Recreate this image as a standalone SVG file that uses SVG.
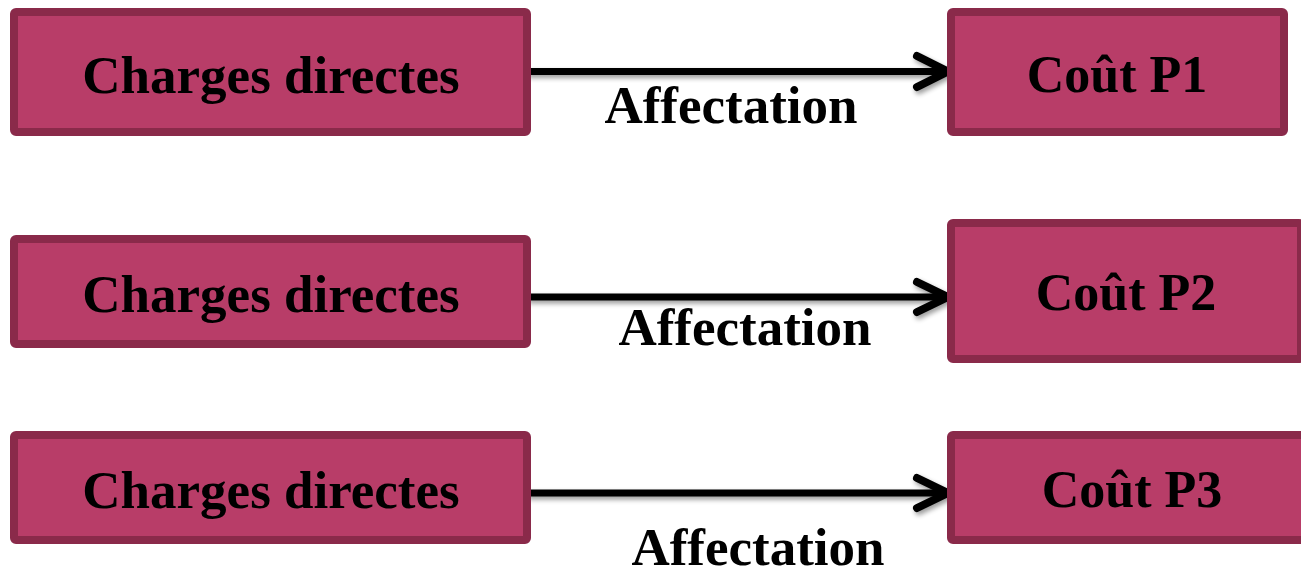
<svg xmlns="http://www.w3.org/2000/svg" width="1301" height="568" viewBox="0 0 1301 568">
<style>
.box{fill:#B83D68;stroke:#8A2A4A;stroke-width:8;}
.t{font-family:"Liberation Serif","Times New Roman",serif;font-weight:bold;font-size:53px;fill:#000;text-anchor:middle;}
.c{font-size:52px;}
.arr{fill:none;stroke:#000;stroke-width:7;stroke-linecap:round;stroke-linejoin:round;}
.head{fill:none;stroke:#000;stroke-width:8;stroke-linecap:round;stroke-linejoin:round;}
</style>
<defs>
<filter id="sh" x="-5%" y="-50%" width="110%" height="200%">
<feGaussianBlur in="SourceAlpha" stdDeviation="2.5"/>
<feOffset dx="2" dy="3" result="b"/>
<feComponentTransfer><feFuncA type="linear" slope="0.4"/></feComponentTransfer>
<feMerge><feMergeNode/><feMergeNode in="SourceGraphic"/></feMerge>
</filter>
</defs>
<rect width="1301" height="568" fill="#fff"/>
<g id="connectors" filter="url(#sh)">
<path class="arr" d="M529 71.5 H945"/><path class="head" d="M917 56 L948 71.5 L917 87"/>
<path class="arr" d="M529 297 H945"/><path class="head" d="M917 282 L948 297 L917 312"/>
<path class="arr" d="M529 493 H945"/><path class="head" d="M917 478 L948 493 L917 508"/>
</g>
<g id="src1"><rect class="box" x="14" y="12" width="513" height="120" rx="2"/><text class="t" x="271" y="93">Charges directes</text></g>
<g id="src2"><rect class="box" x="14" y="239" width="513" height="105" rx="2"/><text class="t" x="271" y="312">Charges directes</text></g>
<g id="src3"><rect class="box" x="14" y="435" width="513" height="105" rx="2"/><text class="t" x="271" y="508">Charges directes</text></g>
<g id="dst1"><rect class="box" x="951" y="12" width="333" height="120" rx="2"/><text class="t c" x="1117" y="92">Coût P1</text></g>
<g id="dst2"><rect class="box" x="951" y="223" width="350" height="136" rx="2"/><text class="t c" x="1126" y="310">Coût P2</text></g>
<g id="dst3"><rect class="box" x="951" y="435" width="362" height="105" rx="2"/><text class="t c" x="1132" y="507">Coût P3</text></g>
<g id="labels">
<text class="t" x="731" y="123">Affectation</text>
<text class="t" x="745" y="345">Affectation</text>
<text class="t" x="758" y="565">Affectation</text>
</g>
</svg>
